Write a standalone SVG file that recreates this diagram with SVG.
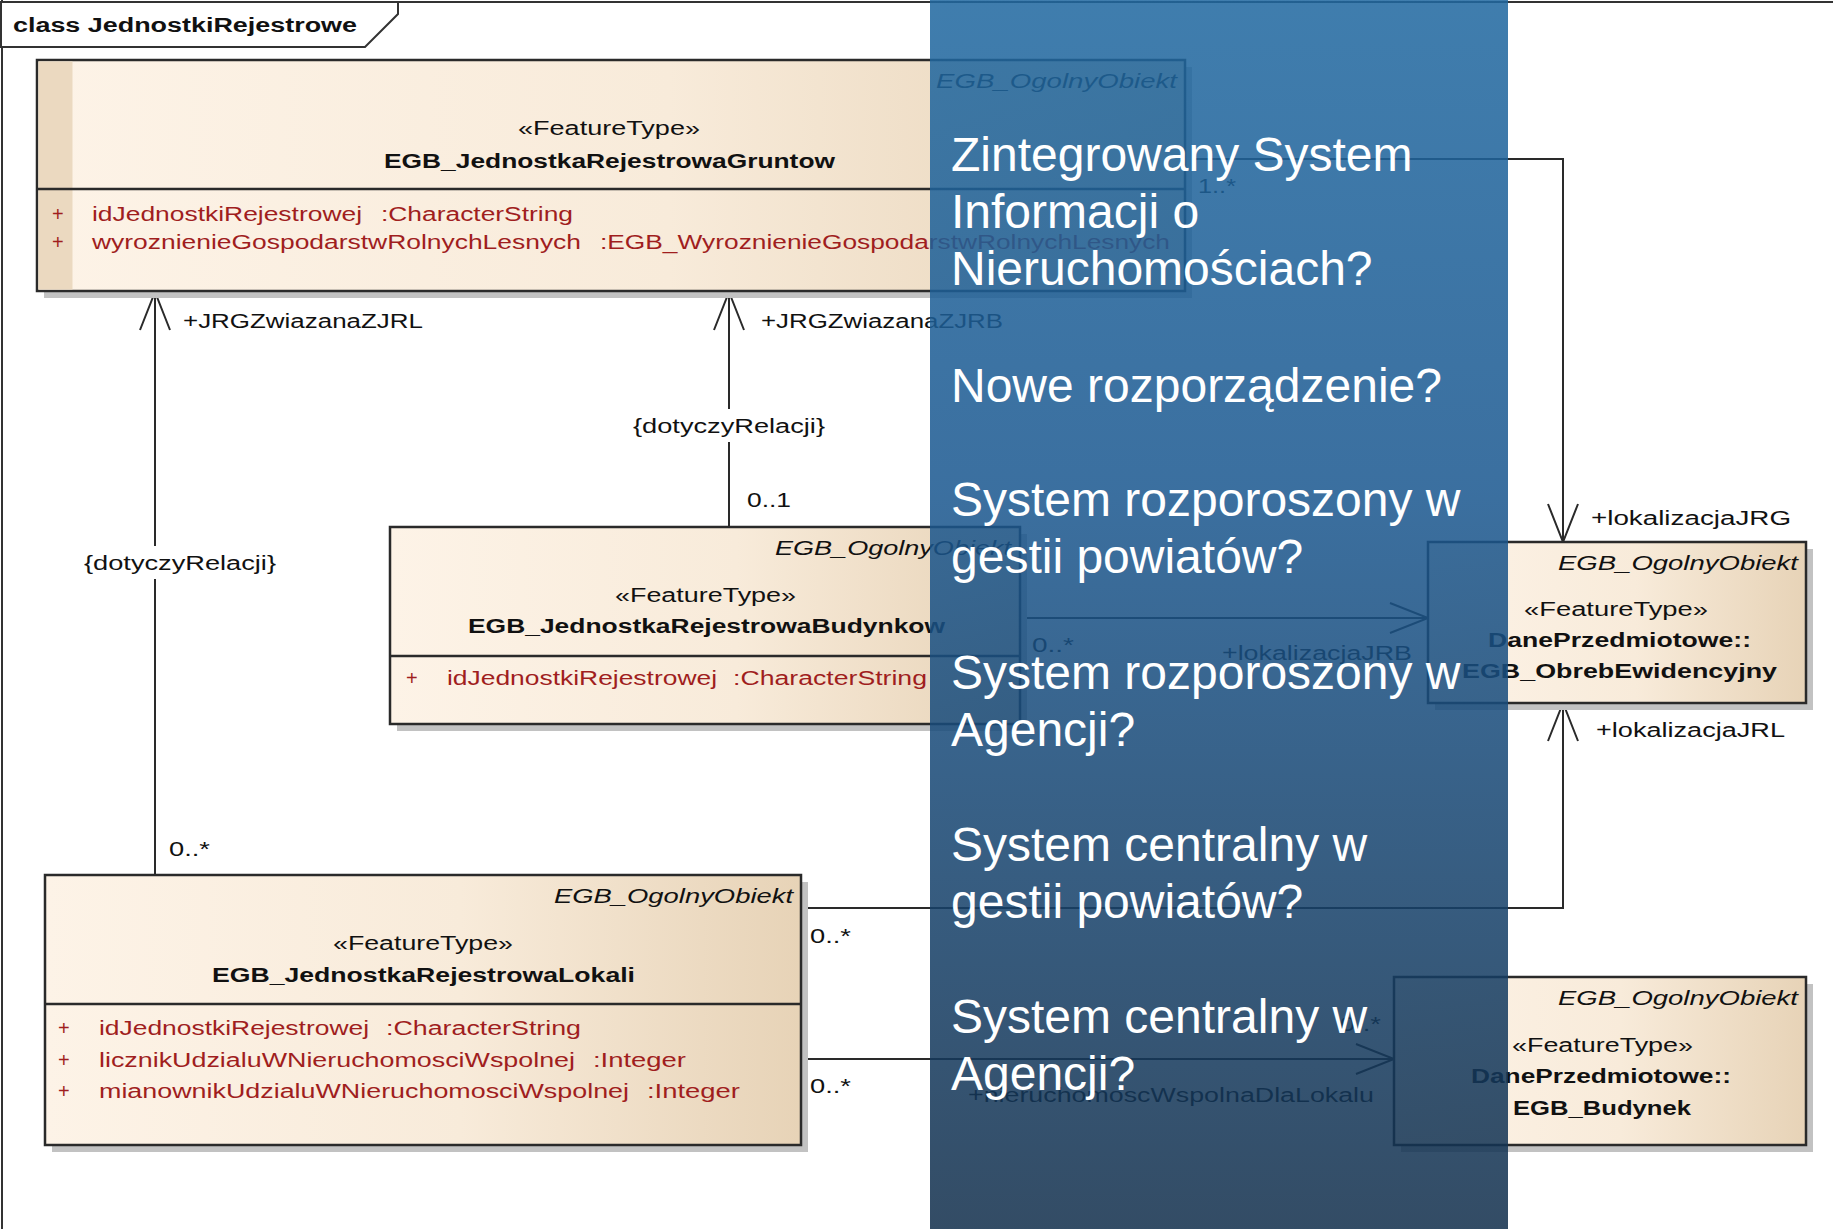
<svg xmlns="http://www.w3.org/2000/svg" width="1833" height="1229" viewBox="0 0 1833 1229">
<defs>
<linearGradient id="boxg" x1="0" y1="0" x2="1" y2="0">
<stop offset="0" stop-color="#FDF3E7"/>
<stop offset="0.55" stop-color="#F8EBDA"/>
<stop offset="1" stop-color="#E7D3B7"/>
</linearGradient>
<linearGradient id="ovg" x1="0" y1="0" x2="0" y2="1">
<stop offset="0" stop-color="#2068A0"/>
<stop offset="0.4" stop-color="#1B5890"/>
<stop offset="1" stop-color="#122F4C"/>
</linearGradient>
<marker id="open" viewBox="-45 -20 50 40" refX="0" refY="0" markerWidth="50" markerHeight="40" orient="auto" markerUnits="userSpaceOnUse">
<path d="M -38 -15 L 0 0 L -38 15" fill="none" stroke="#2a2a2a" stroke-width="2"/>
</marker>
<style>
.box{fill:url(#boxg);stroke:#2a2a2a;stroke-width:2.5}
.sh{fill:#C2C2C2}
.sep{stroke:#2a2a2a;stroke-width:2.5}
.t{font-family:"Liberation Sans",Arial,sans-serif;font-size:20px;fill:#111}
.b{font-weight:bold}
.i{font-style:italic}
.a{fill:#A01E1E}
.ln{fill:none;stroke:#2a2a2a;stroke-width:2}
.ov{font-family:"Liberation Sans",Arial,sans-serif;font-size:48px;fill:#ffffff}
</style>
</defs>
<rect x="0" y="0" width="1833" height="1229" fill="#ffffff"/>
<g id="frame">
<line x1="0" y1="2" x2="1833" y2="2" stroke="#333" stroke-width="2"/>
<line x1="2" y1="0" x2="2" y2="1229" stroke="#333" stroke-width="2"/>
<polygon points="1,2 398,2 398,14 365,47 1,47" fill="#fff" stroke="#333" stroke-width="2"/>
<text class="t b" x="13" y="32" font-size="21" textLength="344" lengthAdjust="spacingAndGlyphs">class JednostkiRejestrowe</text>
</g>
<g id="connectors">
<path class="ln" d="M155 875 L155 292" marker-end="url(#open)"/>
<path class="ln" d="M729 527 L729 292" marker-end="url(#open)"/>
<path class="ln" d="M1020 618 L1428 618" marker-end="url(#open)"/>
<path class="ln" d="M1185 159 L1563 159 L1563 542" marker-end="url(#open)"/>
<path class="ln" d="M801 908 L1563 908 L1563 703" marker-end="url(#open)"/>
<path class="ln" d="M801 1059 L1394 1059" marker-end="url(#open)"/>
<rect x="84" y="546" width="192" height="33" fill="#fff"/>
<rect x="633" y="409" width="192" height="33" fill="#fff"/>
<text class="t" x="183" y="328" textLength="240" lengthAdjust="spacingAndGlyphs">+JRGZwiazanaZJRL</text>
<text class="t" x="84" y="570" textLength="192" lengthAdjust="spacingAndGlyphs">{dotyczyRelacji}</text>
<text class="t" x="169" y="856" textLength="41" lengthAdjust="spacingAndGlyphs">0..*</text>
<text class="t" x="761" y="328" textLength="242" lengthAdjust="spacingAndGlyphs">+JRGZwiazanaZJRB</text>
<text class="t" x="633" y="433" textLength="192" lengthAdjust="spacingAndGlyphs">{dotyczyRelacji}</text>
<text class="t" x="747" y="507" textLength="44" lengthAdjust="spacingAndGlyphs">0..1</text>
<text class="t" x="1032" y="652" textLength="42" lengthAdjust="spacingAndGlyphs">0..*</text>
<text class="t" x="1222" y="660" textLength="190" lengthAdjust="spacingAndGlyphs">+lokalizacjaJRB</text>
<text class="t" x="1198" y="193" textLength="38" lengthAdjust="spacingAndGlyphs">1..*</text>
<text class="t" x="1591" y="525" textLength="200" lengthAdjust="spacingAndGlyphs">+lokalizacjaJRG</text>
<text class="t" x="810" y="943" textLength="41" lengthAdjust="spacingAndGlyphs">0..*</text>
<text class="t" x="1596" y="737" textLength="189" lengthAdjust="spacingAndGlyphs">+lokalizacjaJRL</text>
<text class="t" x="810" y="1093" textLength="41" lengthAdjust="spacingAndGlyphs">0..*</text>
<text class="t" x="1340" y="1031" textLength="41" lengthAdjust="spacingAndGlyphs">0..*</text>
<text class="t" x="968" y="1102" textLength="406" lengthAdjust="spacingAndGlyphs">+nieruchomoscWspolnaDlaLokalu</text>
</g>
<g id="EGB_JednostkaRejestrowaGruntow">
<rect class="sh" x="44" y="67" width="1148" height="231"/>
<rect class="box" x="37" y="60" width="1148" height="231"/>
<rect x="38.5" y="61.5" width="34" height="228" fill="#EBD9C0"/>
<line class="sep" x1="37" y1="189" x2="1185" y2="189"/>
<text class="t i" x="936" y="88" textLength="241" lengthAdjust="spacingAndGlyphs">EGB_OgolnyObiekt</text>
<text class="t" x="518" y="135" textLength="182" lengthAdjust="spacingAndGlyphs">«FeatureType»</text>
<text class="t b" x="384" y="168" textLength="451" lengthAdjust="spacingAndGlyphs">EGB_JednostkaRejestrowaGruntow</text>
<text class="t a" x="52" y="221">+</text>
<text class="t a" x="92" y="221" textLength="270" lengthAdjust="spacingAndGlyphs">idJednostkiRejestrowej</text>
<text class="t a" x="381" y="221" textLength="192" lengthAdjust="spacingAndGlyphs">:CharacterString</text>
<text class="t a" x="52" y="249">+</text>
<text class="t a" x="92" y="249" textLength="489" lengthAdjust="spacingAndGlyphs">wyroznienieGospodarstwRolnychLesnych</text>
<text class="t a" x="600" y="249" textLength="570" lengthAdjust="spacingAndGlyphs">:EGB_WyroznienieGospodarstwRolnychLesnych</text>
</g>
<g id="EGB_JednostkaRejestrowaBudynkow">
<rect class="sh" x="397" y="534" width="630" height="197"/>
<rect class="box" x="390" y="527" width="630" height="197"/>
<line class="sep" x1="390" y1="656" x2="1020" y2="656"/>
<text class="t i" x="775" y="555" textLength="236" lengthAdjust="spacingAndGlyphs">EGB_OgolnyObiekt</text>
<text class="t" x="615" y="602" textLength="181" lengthAdjust="spacingAndGlyphs">«FeatureType»</text>
<text class="t b" x="468" y="633" textLength="477" lengthAdjust="spacingAndGlyphs">EGB_JednostkaRejestrowaBudynkow</text>
<text class="t a" x="406" y="685">+</text>
<text class="t a" x="447" y="685" textLength="270" lengthAdjust="spacingAndGlyphs">idJednostkiRejestrowej</text>
<text class="t a" x="733" y="685" textLength="194" lengthAdjust="spacingAndGlyphs">:CharacterString</text>
</g>
<g id="EGB_JednostkaRejestrowaLokali">
<rect class="sh" x="52" y="882" width="756" height="270"/>
<rect class="box" x="45" y="875" width="756" height="270"/>
<line class="sep" x1="45" y1="1004" x2="801" y2="1004"/>
<text class="t i" x="554" y="903" textLength="239" lengthAdjust="spacingAndGlyphs">EGB_OgolnyObiekt</text>
<text class="t" x="333" y="950" textLength="180" lengthAdjust="spacingAndGlyphs">«FeatureType»</text>
<text class="t b" x="212" y="982" textLength="423" lengthAdjust="spacingAndGlyphs">EGB_JednostkaRejestrowaLokali</text>
<text class="t a" x="58" y="1035">+</text>
<text class="t a" x="99" y="1035" textLength="270" lengthAdjust="spacingAndGlyphs">idJednostkiRejestrowej</text>
<text class="t a" x="386" y="1035" textLength="195" lengthAdjust="spacingAndGlyphs">:CharacterString</text>
<text class="t a" x="58" y="1067">+</text>
<text class="t a" x="99" y="1067" textLength="476" lengthAdjust="spacingAndGlyphs">licznikUdzialuWNieruchomosciWspolnej</text>
<text class="t a" x="593" y="1067" textLength="93" lengthAdjust="spacingAndGlyphs">:Integer</text>
<text class="t a" x="58" y="1098">+</text>
<text class="t a" x="99" y="1098" textLength="530" lengthAdjust="spacingAndGlyphs">mianownikUdzialuWNieruchomosciWspolnej</text>
<text class="t a" x="647" y="1098" textLength="93" lengthAdjust="spacingAndGlyphs">:Integer</text>
</g>
<g id="EGB_ObrebEwidencyjny">
<rect class="sh" x="1435" y="549" width="378" height="161"/>
<rect class="box" x="1428" y="542" width="378" height="161"/>
<text class="t i" x="1558" y="570" textLength="240" lengthAdjust="spacingAndGlyphs">EGB_OgolnyObiekt</text>
<text class="t" x="1524" y="616" textLength="184" lengthAdjust="spacingAndGlyphs">«FeatureType»</text>
<text class="t b" x="1488" y="647" textLength="263" lengthAdjust="spacingAndGlyphs">DanePrzedmiotowe::</text>
<text class="t b" x="1462" y="678" textLength="315" lengthAdjust="spacingAndGlyphs">EGB_ObrebEwidencyjny</text>
</g>
<g id="EGB_Budynek">
<rect class="sh" x="1401" y="984" width="412" height="168"/>
<rect class="box" x="1394" y="977" width="412" height="168"/>
<text class="t i" x="1558" y="1005" textLength="240" lengthAdjust="spacingAndGlyphs">EGB_OgolnyObiekt</text>
<text class="t" x="1512" y="1052" textLength="181" lengthAdjust="spacingAndGlyphs">«FeatureType»</text>
<text class="t b" x="1471" y="1083" textLength="260" lengthAdjust="spacingAndGlyphs">DanePrzedmiotowe::</text>
<text class="t b" x="1513" y="1115" textLength="178" lengthAdjust="spacingAndGlyphs">EGB_Budynek</text>
</g>
<g id="overlay">
<rect x="930" y="0" width="578" height="1229" fill="url(#ovg)" opacity="0.86"/>
<text class="ov" x="951" y="171">Zintegrowany System</text>
<text class="ov" x="951" y="228">Informacji o</text>
<text class="ov" x="951" y="285">Nieruchomościach?</text>
<text class="ov" x="951" y="402">Nowe rozporządzenie?</text>
<text class="ov" x="951" y="516">System rozporoszony w</text>
<text class="ov" x="951" y="573">gestii powiatów?</text>
<text class="ov" x="951" y="689">System rozporoszony w</text>
<text class="ov" x="951" y="746">Agencji?</text>
<text class="ov" x="951" y="861">System centralny w</text>
<text class="ov" x="951" y="918">gestii powiatów?</text>
<text class="ov" x="951" y="1033">System centralny w</text>
<text class="ov" x="951" y="1090">Agencji?</text>
</g>
</svg>
